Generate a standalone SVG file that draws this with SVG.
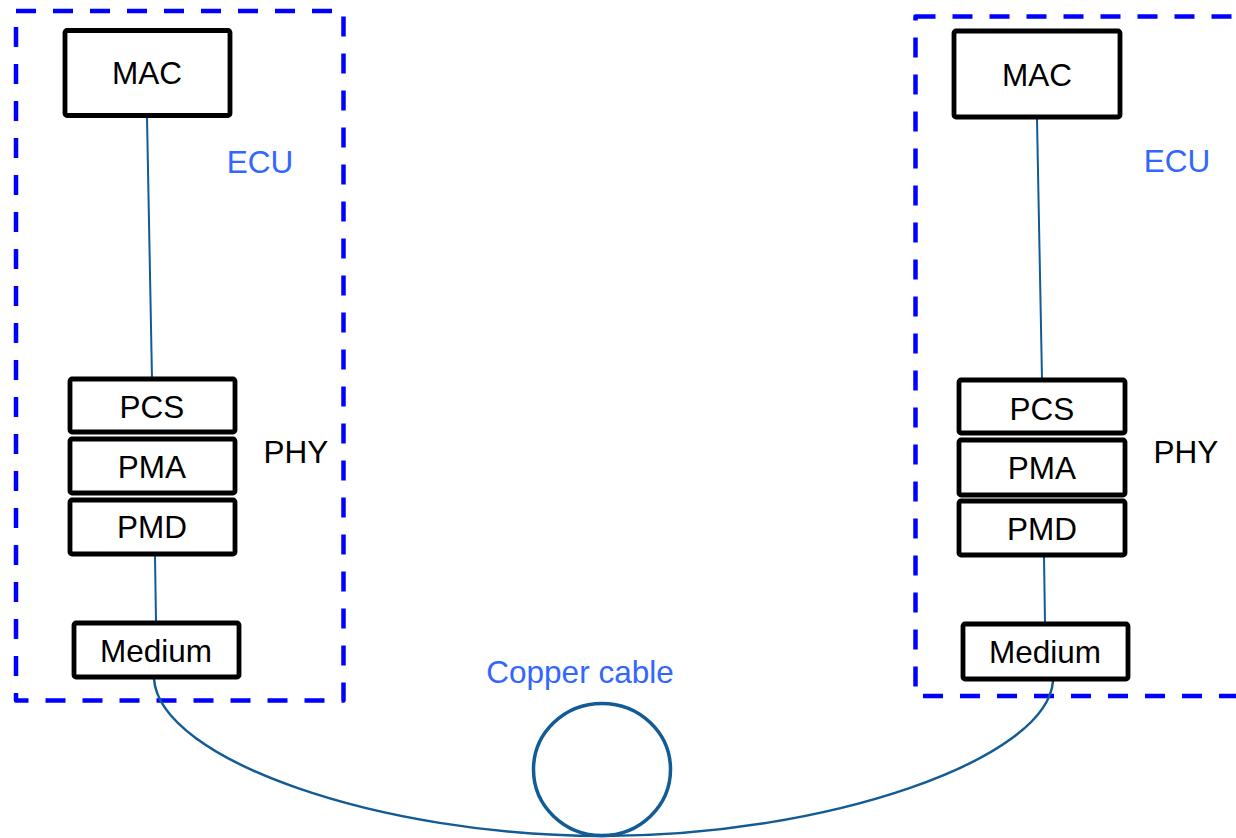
<svg xmlns="http://www.w3.org/2000/svg" width="1236" height="838" viewBox="0 0 1236 838">
<style>
.ecu{fill:none;stroke:#0000ff;stroke-width:4.5;stroke-dasharray:20 17;stroke-linejoin:round}
.box{fill:#fff;stroke:#000;stroke-width:4.8}
.lbl{font-family:"Liberation Sans",Arial,sans-serif;font-size:31.5px;fill:#000;text-anchor:middle}
.blue{font-family:"Liberation Sans",Arial,sans-serif;font-size:31.5px;fill:#3366ff;text-anchor:middle}
.wire{fill:none;stroke:#125b95;stroke-width:2}
.cable{fill:none;stroke:#125b95;stroke-width:2.5}
</style>
<rect width="1236" height="838" fill="#fff"/>
<g id="ecu-left">
<rect class="ecu" x="16" y="11" width="327.5" height="689.5"/>
<text class="blue" x="260" y="173">ECU</text>
</g>
<g id="ecu-right">
<rect class="ecu" x="915.5" y="16.5" width="340" height="679.5"/>
<text class="blue" x="1177" y="172">ECU</text>
</g>
<g id="connectors">
<line class="wire" x1="147" y1="117" x2="152" y2="379"/>
<line class="wire" x1="155" y1="556" x2="156" y2="622"/>
<line class="wire" x1="1037" y1="119" x2="1042" y2="379"/>
<line class="wire" x1="1044" y1="557" x2="1045" y2="623"/>
<path class="cable" d="M154,679 C160,760 380,836 603,836 C826,836 1047,760 1053,681"/>
</g>
<g id="mac-left"><rect class="box" x="65" y="30.5" width="165" height="85" rx="2"/><text class="lbl" x="147" y="84">MAC</text></g>
<g id="pcs-left"><rect class="box" x="70" y="379" width="165" height="53" rx="2"/><text class="lbl" x="152" y="418">PCS</text></g>
<g id="pma-left"><rect class="box" x="70" y="439" width="165" height="54" rx="2"/><text class="lbl" x="152" y="478">PMA</text></g>
<g id="pmd-left"><rect class="box" x="70" y="500" width="165" height="54" rx="2"/><text class="lbl" x="152" y="538">PMD</text></g>
<g id="phy-left"><text class="lbl" x="296" y="463">PHY</text></g>
<g id="medium-left"><rect class="box" x="74" y="623" width="165" height="54" rx="2"/><text class="lbl" x="156" y="662">Medium</text></g>
<g id="mac-right"><rect class="box" x="954" y="31" width="166" height="86" rx="2"/><text class="lbl" x="1037" y="86">MAC</text></g>
<g id="pcs-right"><rect class="box" x="959" y="380" width="166" height="53" rx="2"/><text class="lbl" x="1042" y="420">PCS</text></g>
<g id="pma-right"><rect class="box" x="959" y="440" width="166" height="55" rx="2"/><text class="lbl" x="1042" y="479">PMA</text></g>
<g id="pmd-right"><rect class="box" x="959" y="501" width="166" height="54" rx="2"/><text class="lbl" x="1042" y="540">PMD</text></g>
<g id="phy-right"><text class="lbl" x="1186" y="463">PHY</text></g>
<g id="medium-right"><rect class="box" x="963" y="624" width="165" height="55" rx="2"/><text class="lbl" x="1045" y="663">Medium</text></g>
<g id="copper-cable">
<ellipse cx="602" cy="769.5" rx="68.5" ry="66" fill="none" stroke="#125b95" stroke-width="3.5"/>
<text class="blue" x="580" y="683">Copper cable</text>
</g>
</svg>
